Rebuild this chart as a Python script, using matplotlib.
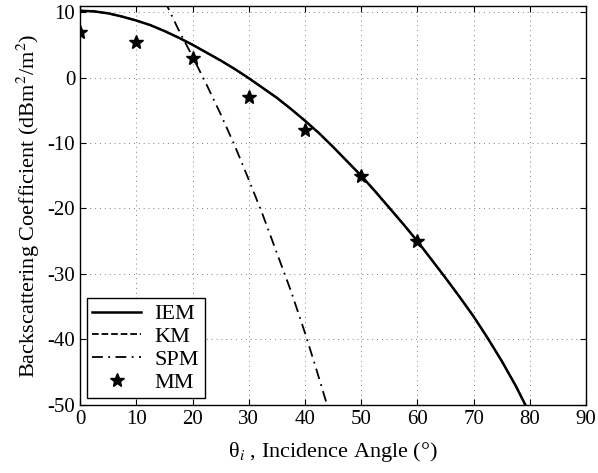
import numpy as np
import matplotlib
matplotlib.use("Agg")
import matplotlib.pyplot as plt

plt.rcParams["font.family"] = "Liberation Serif"
plt.rcParams["mathtext.fontset"] = "stix"
plt.rcParams["axes.unicode_minus"] = False

# IEM curve
iem_x = [0, 2.5, 5, 7.5, 10, 12.5, 15, 17.5, 20, 22.5, 25, 27.5, 30, 32.5, 35,
         37.5, 40, 42.5, 45, 47.5, 50, 52.5, 55, 57.5, 60, 62.5, 65, 67.5, 70,
         72.5, 75, 77.5, 79.2]
iem_y = [10.2, 10.1, 9.8, 9.3, 8.7, 8.0, 7.1, 6.1, 5.0, 3.8, 2.6, 1.3, -0.1,
         -1.6, -3.1, -4.8, -6.6, -8.5, -10.6, -12.8, -15.0, -17.4, -19.9, -22.4,
         -25.0, -27.8, -30.6, -33.5, -36.5, -39.8, -43.3, -47.1, -50.0]

# KM lies under the IEM curve
km_x = iem_x
km_y = iem_y

# SPM curve
spm_x = [15, 17.5, 20, 22.5, 25, 27.5, 30, 32.5, 35, 37.5, 40, 42, 44]
spm_y = [11.8, 7.3, 3.2, -1.1, -5.6, -10.4, -15.6, -21.0, -26.8, -32.6, -39.0,
         -44.5, -50.2]

# MM points
mm_x = [0, 10, 20, 30, 40, 50, 60]
mm_y = [7, 5.5, 3, -3, -8, -15, -25]

fig = plt.figure(figsize=(5.98, 4.73), dpi=100)
ax = fig.add_axes([0.134, 0.144, 0.846, 0.843])

ax.plot(km_x, km_y, color="black", lw=1.3, ls="--", label="KM", zorder=2)
ax.plot(iem_x, iem_y, color="black", lw=1.8, ls="-", label="IEM", zorder=3)
ax.plot(spm_x, spm_y, color="black", lw=1.3, ls=(0, (6, 3, 1, 3)), label="SPM", zorder=3)
ax.plot(mm_x, mm_y, ls="none", marker="*", color="black", ms=10, label="MM", zorder=4)

ax.set_xlim(0, 90)
ax.set_ylim(-50, 10.9)
ax.set_xticks(np.arange(0, 91, 10))
ax.set_yticks(np.arange(-50, 11, 10))
ax.tick_params(direction="in", top=True, right=True, labelsize=15, length=4)
ax.grid(True, ls=(0, (1, 4)), color="gray", lw=0.7)
for s in ax.spines.values():
    s.set_linewidth(1.0)

ax.set_xlabel("θ$_i$ , Incidence Angle (°)", fontsize=16, labelpad=8)
ax.set_ylabel("Backscattering Coefficient (dBm$^2$/m$^2$)", fontsize=16, labelpad=4)

h, l = ax.get_legend_handles_labels()
order = [l.index(n) for n in ["IEM", "KM", "SPM", "MM"]]
leg = ax.legend([h[i] for i in order], [l[i] for i in order], loc="lower left",
                fontsize=16, frameon=True, fancybox=False, edgecolor="black",
                framealpha=1, borderaxespad=0.3, handlelength=2.2,
                labelspacing=0.1, borderpad=0.25, handletextpad=0.6)
leg.get_frame().set_linewidth(1.0)

fig.savefig("out.png", dpi=100)
